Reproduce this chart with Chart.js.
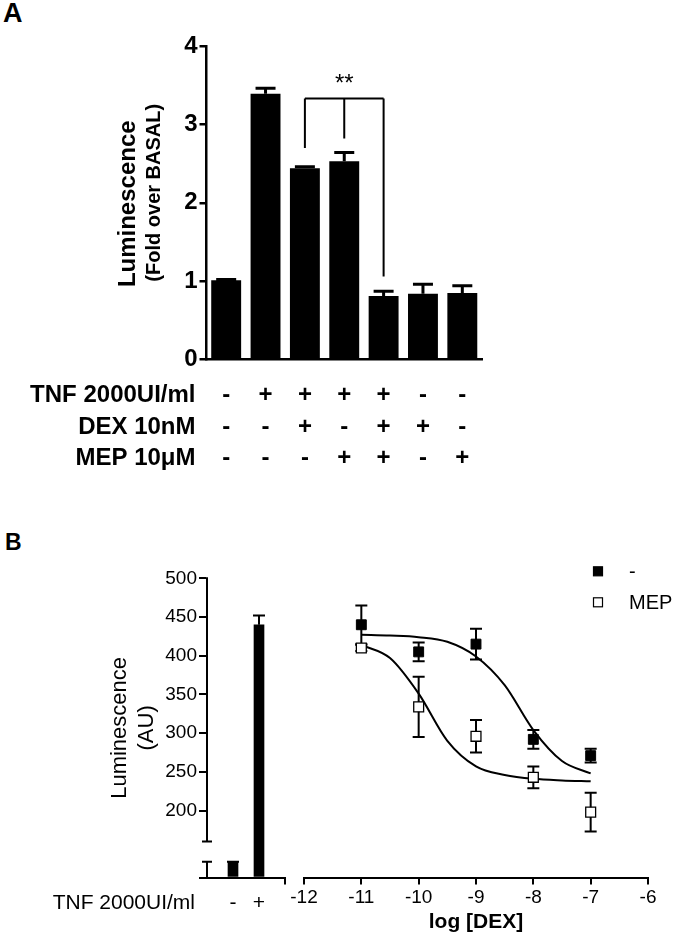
<!DOCTYPE html>
<html>
<head>
<meta charset="utf-8">
<script src="https://cdn.jsdelivr.net/npm/chart.js@4.4.1/dist/chart.umd.min.js"></script>
<style>
  body { margin: 0; background: #fff; }
  #page { position: relative; width: 675px; height: 942px; font-family: 'Liberation Sans', Arial, sans-serif; }
  canvas { position: absolute; }
  .letter { position: absolute; font-weight: bold; color: #000; }
</style>
</head>
<body>
<div id="page">
  <div class="letter" style="left:3px;top:-2px;font-size:27px">A</div>
  <div class="letter" style="left:5px;top:529px;font-size:23px">B</div>
  <canvas id="chartA" width="675" height="520" style="left:0;top:0"></canvas>
  <canvas id="chartB1" width="300" height="422" style="left:0;top:520px"></canvas>
  <canvas id="chartB2" width="395" height="422" style="left:280px;top:520px"></canvas>
</div>
<script>
// ---- Panel A data ----
const conditions = ['Basal', 'TNF', 'TNF+DEX', 'TNF+MEP', 'TNF+DEX+MEP', 'DEX', 'MEP'];
const foldMeans = [1.01, 3.39, 2.44, 2.53, 0.81, 0.84, 0.85];
const foldErrors = [0.01, 0.07, 0.02, 0.11, 0.06, 0.12, 0.09];
const tnfRow = ['-', '+', '+', '+', '+', '-', '-'];
const dexRow = ['-', '-', '+', '-', '+', '+', '-'];
const mepRow = ['-', '-', '-', '+', '+', '-', '+'];

// ---- Panel B data ----
const tnfLabels = ['-', '+'];
const rawMeans = [19, 440];
const rawErrors = [1, 12];
const yTicksB = [0, 200, 250, 300, 350, 400, 450, 500];
const logDex = [-11, -10, -9, -8, -7];
const ctrlMeans = [440, 405, 415, 292, 271];
const ctrlErrors = [25, 12, 20, 12, 9];
const mepMeans = [410, 334, 296, 243, 198];
const mepErrors = [4, 39, 21, 14, 25];
const fitDex = [-11, -10.5, -10, -9.5, -9, -8.5, -8, -7.5, -7];
const ctrlFit = [427, 426, 424, 418, 399, 362, 304, 264, 248];
const mepFit = [414, 397, 351, 290, 257, 246, 241, 239, 238];

const FONT = "'Liberation Sans', Arial, sans-serif";
Chart.defaults.font.family = FONT;
Chart.defaults.color = '#000';

// broken y axis: low segment 0-20, gap, high segment 160-max
const yBreak = { lowMax: 20, highMin: 160, lowPart: 0.053, gapPart: 0.067 };

class BrokenLinearScale extends Chart.LinearScale {
  getPixelForValue(value) {
    const b = yBreak;
    let d;
    if (value <= b.lowMax) d = value / b.lowMax * b.lowPart;
    else if (value < b.highMin) d = b.lowPart + (value - b.lowMax) / (b.highMin - b.lowMax) * b.gapPart;
    else d = b.lowPart + b.gapPart + (value - b.highMin) / (this.max - b.highMin) * (1 - b.lowPart - b.gapPart);
    return this.getPixelForDecimal(d);
  }
  drawBorder() {
    const ctx = this.ctx;
    const x = this.right;
    const hiTop = this.getPixelForValue(this.max);
    const hiBot = this.getPixelForValue(yBreak.highMin);
    const loTop = this.getPixelForValue(yBreak.lowMax);
    const loBot = this.getPixelForValue(0);
    ctx.save();
    ctx.strokeStyle = '#000';
    ctx.lineWidth = 2;
    ctx.beginPath();
    ctx.moveTo(x, hiTop - 1); ctx.lineTo(x, hiBot);
    ctx.moveTo(x - 5, hiBot); ctx.lineTo(x + 5, hiBot);
    ctx.moveTo(x - 5, loTop); ctx.lineTo(x + 5, loTop);
    ctx.moveTo(x, loTop); ctx.lineTo(x, loBot + 1);
    ctx.stroke();
    ctx.restore();
  }
}
BrokenLinearScale.id = 'brokenLinear';
BrokenLinearScale.defaults = Chart.LinearScale.defaults;
Chart.register(BrokenLinearScale);

// error bars from dataset.errors
const errorBars = {
  id: 'errorBars',
  beforeDatasetsDraw(chart) {
    const ctx = chart.ctx;
    chart.data.datasets.forEach((ds, di) => {
      if (!ds.errors) return;
      const meta = chart.getDatasetMeta(di);
      const ys = chart.scales[meta.yAxisID];
      ctx.save();
      ctx.strokeStyle = '#000';
      ctx.lineWidth = ds.errorLineWidth || 2;
      meta.data.forEach((el, i) => {
        const v = meta.controller.getParsed(i).y;
        const e = ds.errors[i];
        const cap = ds.capHalf || 6;
        const top = ys.getPixelForValue(v + e);
        const bottom = ys.getPixelForValue(ds.upOnly ? v : v - e);
        ctx.beginPath();
        ctx.moveTo(el.x, top); ctx.lineTo(el.x, bottom);
        ctx.moveTo(el.x - cap, top); ctx.lineTo(el.x + cap, top);
        if (!ds.upOnly) { ctx.moveTo(el.x - cap, bottom); ctx.lineTo(el.x + cap, bottom); }
        ctx.stroke();
      });
      ctx.restore();
    });
  }
};

// significance bracket in panel A
const bracket = { cols: [2, 3, 4], top: 3.33, ends: [2.70, 2.82, 1.06], label: '**', labelY: 3.43 };
const bracketPlugin = {
  id: 'bracket',
  afterDatasetsDraw(chart) {
    const { ctx, scales: { x, y } } = chart;
    const xs = bracket.cols.map(c => x.getPixelForValue(c));
    const yt = y.getPixelForValue(bracket.top);
    ctx.save();
    ctx.strokeStyle = '#000';
    ctx.lineWidth = 2;
    ctx.beginPath();
    ctx.moveTo(xs[0], yt); ctx.lineTo(xs[2], yt);
    xs.forEach((px, i) => { ctx.moveTo(px, yt); ctx.lineTo(px, y.getPixelForValue(bracket.ends[i])); });
    ctx.stroke();
    ctx.fillStyle = '#000';
    ctx.font = '24px ' + FONT;
    ctx.textAlign = 'center';
    ctx.textBaseline = 'alphabetic';
    ctx.fillText(bracket.label, xs[1], y.getPixelForValue(bracket.labelY));
    ctx.restore();
  }
};

// treatment table under panel A
const tableRows = [['TNF 2000UI/ml', tnfRow], ['DEX 10nM', dexRow], ['MEP 10\u03BCM', mepRow]];
const tablePlugin = {
  id: 'table',
  afterDraw(chart) {
    const { ctx, chartArea, scales: { x } } = chart;
    ctx.save();
    ctx.fillStyle = '#000';
    ctx.font = 'bold 24px ' + FONT;
    ctx.textBaseline = 'middle';
    tableRows.forEach(([label, marks], r) => {
      const y = chartArea.bottom + 36 + r * 31.6;
      ctx.textAlign = 'right';
      ctx.fillText(label, chartArea.left - 11, y);
      ctx.textAlign = 'center';
      marks.forEach((m, i) => ctx.fillText(m, x.getPixelForValue(i), y));
    });
    ctx.restore();
  }
};

// rotated y title of panel A (two sizes)
const titleA = {
  id: 'titleA',
  afterDraw(chart) {
    const ctx = chart.ctx;
    const mid = (chart.chartArea.top + chart.chartArea.bottom) / 2;
    ctx.save();
    ctx.fillStyle = '#000';
    ctx.textAlign = 'center';
    ctx.textBaseline = 'middle';
    ctx.translate(128, mid + 1);
    ctx.rotate(-Math.PI / 2);
    ctx.font = 'bold 24px ' + FONT;
    ctx.fillText('Luminescence', 0, 0);
    ctx.font = 'bold 20px ' + FONT;
    ctx.fillText('(Fold over BASAL)', 11, 26);
    ctx.restore();
  }
};

new Chart(document.getElementById('chartA'), {
  type: 'bar',
  data: {
    labels: conditions,
    datasets: [{
      data: foldMeans,
      errors: foldErrors,
      upOnly: true,
      capHalf: 10,
      errorLineWidth: 3,
      backgroundColor: '#000',
      categoryPercentage: 1,
      barPercentage: 0.76
    }]
  },
  options: {
    responsive: false,
    animation: false,
    devicePixelRatio: 1,
    layout: { padding: { left: 0, top: 46, right: 193, bottom: 160.5 } },
    plugins: { legend: { display: false }, tooltip: { enabled: false } },
    scales: {
      x: {
        grid: { display: false },
        ticks: { display: false },
        border: { color: '#000', width: 2.5 },
        afterFit: s => { s.height = 0; }
      },
      y: {
        min: 0,
        max: 4,
        ticks: { stepSize: 1, color: '#000', padding: 2, font: { size: 24, weight: 'bold' } },
        grid: { drawOnChartArea: false, tickLength: 7, color: '#000', lineWidth: 2.5 },
        border: { color: '#000', width: 2.5 },
        afterFit: s => { s.width = 206.5; }
      }
    }
  },
  plugins: [errorBars, bracketPlugin, tablePlugin, titleA]
});

// row label of panel B left part
const rowLabelB = {
  id: 'rowLabelB',
  afterDraw(chart) {
    const { ctx, chartArea } = chart;
    ctx.save();
    ctx.fillStyle = '#000';
    ctx.font = '21px ' + FONT;
    ctx.textAlign = 'right';
    ctx.textBaseline = 'middle';
    ctx.fillText('TNF 2000UI/ml', chartArea.left - 12, chartArea.bottom + 26);
    ctx.restore();
  }
};

const brokenY = (show) => ({
  type: 'brokenLinear',
  display: show,
  min: 0,
  max: 500,
  afterBuildTicks: s => { s.ticks = yTicksB.map(v => ({ value: v })); },
  ticks: { color: '#000', padding: 2, font: { size: 19 }, callback: v => (v >= 200 ? v : '') },
  grid: { drawOnChartArea: false, tickLength: 8, color: '#000', lineWidth: 2 },
  border: { color: '#000', width: 2 }
});

const yB1 = brokenY(true);
yB1.title = {
  display: true,
  text: ['Luminescence', '(AU)'],
  font: { size: 22, lineHeight: 1.23 },
  padding: { top: 106.5, bottom: 0 }
};
yB1.afterFit = s => { s.width = 207; };

new Chart(document.getElementById('chartB1'), {
  type: 'bar',
  data: {
    datasets: [{
      data: tnfLabels.map((_, i) => ({ x: i + 1, y: rawMeans[i] })),
      errors: rawErrors,
      upOnly: true,
      capHalf: 6,
      backgroundColor: '#000',
      barThickness: 10
    }]
  },
  options: {
    responsive: false,
    animation: false,
    devicePixelRatio: 1,
    layout: { padding: { left: 0, top: 58.3, right: 15, bottom: 24.5 } },
    plugins: { legend: { display: false }, tooltip: { enabled: false } },
    scales: {
      x: {
        type: 'linear',
        min: 0,
        max: tnfLabels.length + 1,
        offset: false,
        afterBuildTicks: s => { s.ticks = tnfLabels.map((_, i) => ({ value: i + 1 })).concat({ value: tnfLabels.length + 1 }); },
        ticks: { color: '#000', padding: 6, font: { size: 21 }, callback: v => tnfLabels[v - 1] || '' },
        grid: {
          offset: false,
          drawOnChartArea: false,
          tickLength: 7,
          lineWidth: 2,
          color: c => (c.tick && c.tick.value === tnfLabels.length + 1 ? '#000' : 'rgba(0,0,0,0)')
        },
        border: { color: '#000', width: 2 },
        afterFit: s => { s.height = 40; }
      },
      y: yB1
    }
  },
  plugins: [errorBars, rowLabelB]
});

// legend of dose-response panel
const legendB = {
  id: 'legendB',
  afterDraw(chart) {
    const { ctx, chartArea } = chart;
    ctx.save();
    ctx.font = '20px ' + FONT;
    ctx.textAlign = 'left';
    ctx.textBaseline = 'middle';
    chart.data.datasets.filter(d => d.inLegend).forEach((d, i) => {
      const cx = chartArea.right - 50;
      const cy = chartArea.top - 7 + i * 31;
      ctx.fillStyle = d.backgroundColor;
      ctx.strokeStyle = '#000';
      ctx.lineWidth = 1.2;
      ctx.fillRect(cx - 4.5, cy - 4.5, 9, 9);
      ctx.strokeRect(cx - 4.5, cy - 4.5, 9, 9);
      ctx.fillStyle = '#000';
      ctx.fillText(d.label, chartArea.right - 19, cy + 1);
    });
    ctx.restore();
  }
};

new Chart(document.getElementById('chartB2'), {
  type: 'scatter',
  data: {
    datasets: [
      {
        label: '-',
        inLegend: true,
        data: logDex.map((x, i) => ({ x, y: ctrlMeans[i] })),
        errors: ctrlErrors,
        capHalf: 6,
        pointStyle: 'rect',
        pointRadius: 7,
        backgroundColor: '#000',
        borderColor: '#000',
        borderWidth: 1
      },
      {
        label: 'MEP',
        inLegend: true,
        data: logDex.map((x, i) => ({ x, y: mepMeans[i] })),
        errors: mepErrors,
        capHalf: 6,
        pointStyle: 'rect',
        pointRadius: 7,
        backgroundColor: '#fff',
        borderColor: '#000',
        borderWidth: 1.3
      },
      {
        label: 'fit -',
        data: fitDex.map((x, i) => ({ x, y: ctrlFit[i] })),
        showLine: true,
        cubicInterpolationMode: 'monotone',
        pointRadius: 0,
        borderColor: '#000',
        borderWidth: 2
      },
      {
        label: 'fit MEP',
        data: fitDex.map((x, i) => ({ x, y: mepFit[i] })),
        showLine: true,
        cubicInterpolationMode: 'monotone',
        pointRadius: 0,
        borderColor: '#000',
        borderWidth: 2
      }
    ]
  },
  options: {
    responsive: false,
    animation: false,
    devicePixelRatio: 1,
    layout: { padding: { left: 24, top: 58.3, right: 27, bottom: 0 } },
    plugins: { legend: { display: false }, tooltip: { enabled: false } },
    scales: {
      x: {
        type: 'linear',
        min: -12,
        max: -6,
        ticks: { stepSize: 1, color: '#000', padding: 2, font: { size: 19 } },
        grid: { drawOnChartArea: false, tickLength: 7, color: '#000', lineWidth: 2 },
        border: { color: '#000', width: 2 },
        title: { display: true, text: 'log [DEX]', font: { size: 21, weight: 'bold' }, padding: { top: 0, bottom: 7.4 } },
        afterFit: s => { s.height = 64.5; }
      },
      y: brokenY(false)
    }
  },
  plugins: [errorBars, legendB]
});
</script>
</body>
</html>
